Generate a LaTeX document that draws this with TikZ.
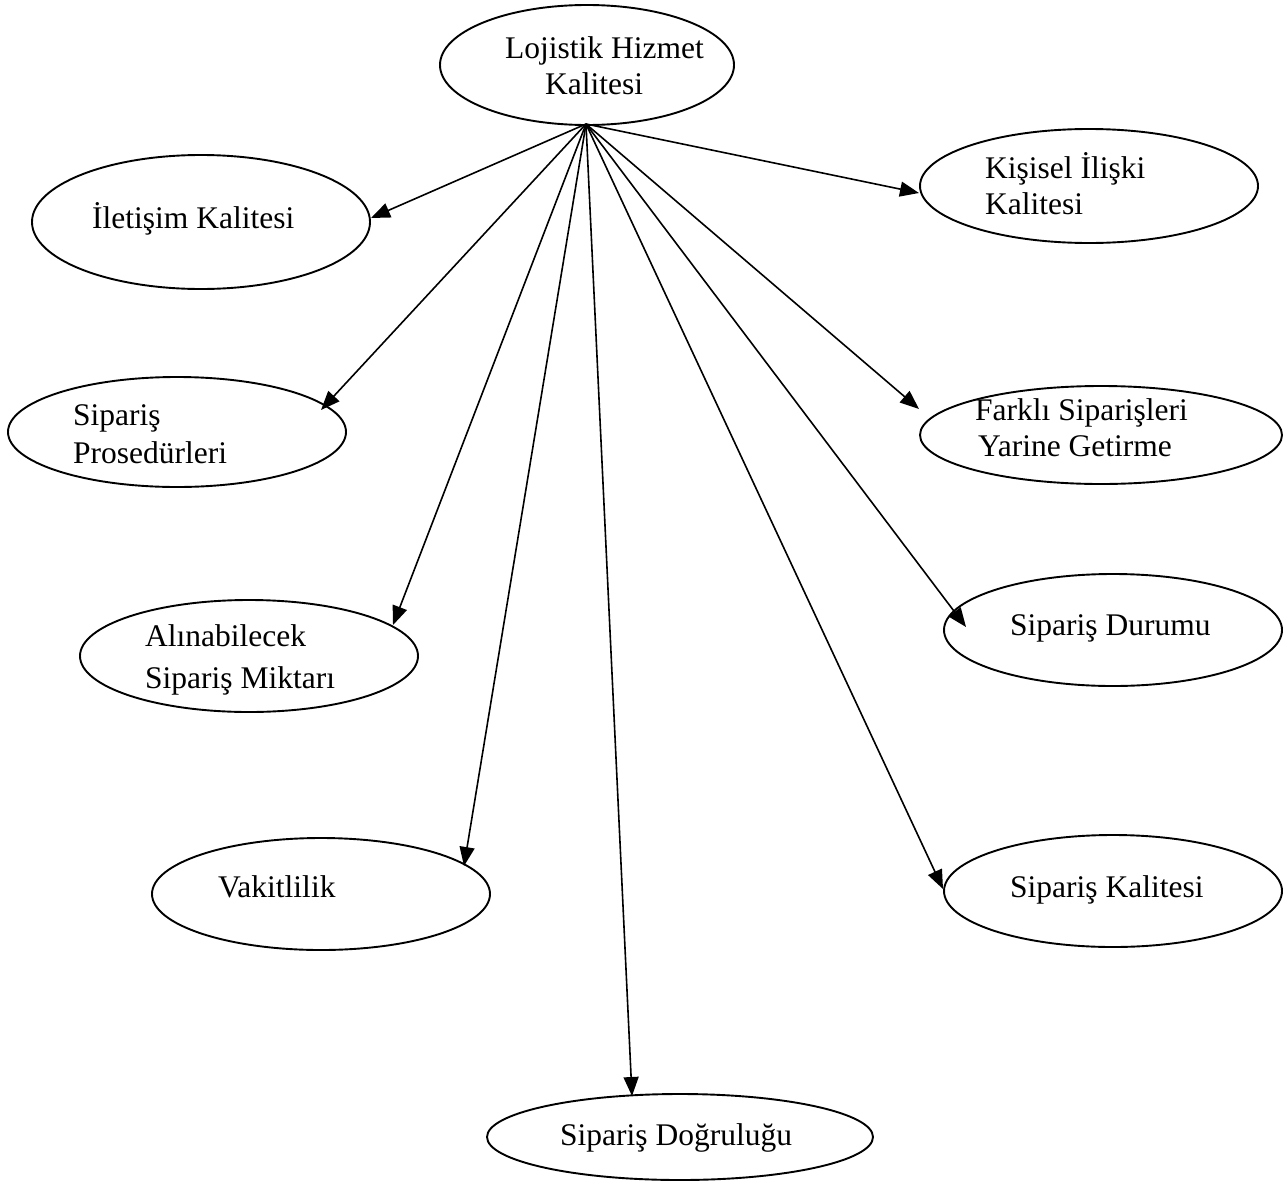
\documentclass[tikz,border=0pt]{standalone}
\usepackage{fontspec}
\setmainfont{Liberation Serif}
\usetikzlibrary{shapes.geometric,arrows.meta}
\tikzset{
  oval/.style={draw, line width=1.9pt, ellipse, inner sep=0pt},
  lbl/.style={anchor=base west, inner sep=0pt, font=\fontsize{31.5}{36}\selectfont},
  arr/.style={-{Triangle[length=19pt,width=15pt]}, line width=1.6pt}
}
\begin{document}
\begin{tikzpicture}[x=1pt,y=-1pt]
\useasboundingbox (0,0) rectangle (1285,1183);
% ellipses
\node[oval, minimum width=294pt, minimum height=120pt] (lhk) at (587,65) {};
\node[oval, minimum width=338pt, minimum height=134pt] (ilet) at (201,222) {};
\node[oval, minimum width=338pt, minimum height=114pt] (kis) at (1089,186) {};
\node[oval, minimum width=338pt, minimum height=110pt] (sip) at (177,432) {};
\node[oval, minimum width=362pt, minimum height=98pt] (far) at (1101,435) {};
\node[oval, minimum width=338pt, minimum height=112pt] (aln) at (249,656) {};
\node[oval, minimum width=338pt, minimum height=112pt] (dur) at (1113,630) {};
\node[oval, minimum width=338pt, minimum height=112pt] (vak) at (321,894) {};
\node[oval, minimum width=338pt, minimum height=112pt] (ska) at (1113,891) {};
\node[oval, minimum width=386pt, minimum height=86pt] (dog) at (680,1137) {};
% texts
\node[lbl] (t1a) at (505,58) {Lojistik Hizmet};
\node[lbl] (t1b) at (545,94) {Kalitesi};
\node[lbl] (t2) at (92,228) {İletişim Kalitesi};
\node[lbl] (t3a) at (985,178) {Kişisel İlişki};
\node[lbl] (t3b) at (985,214) {Kalitesi};
\node[lbl] (t4a) at (73,425) {Sipariş};
\node[lbl] (t4b) at (73,463) {Prosedürleri};
\node[lbl] (t5a) at (975,420) {Farklı Siparişleri};
\node[lbl] (t5b) at (978,456) {Yarine Getirme};
\node[lbl] (t6a) at (145,646) {Alınabilecek};
\node[lbl] (t6b) at (145,688) {Sipariş Miktarı};
\node[lbl] (t7) at (1010,635) {Sipariş Durumu};
\node[lbl] (t8) at (218,897) {Vakitlilik};
\node[lbl] (t9) at (1010,897) {Sipariş Kalitesi};
\node[lbl] (t10) at (560,1145) {Sipariş Doğruluğu};
% arrow origin and tips
\coordinate (o) at (586,124);
\coordinate (e2) at (371,218);
\coordinate (e3) at (919,193);
\coordinate (e4) at (321,410);
\coordinate (e5) at (919,409);
\coordinate (e6) at (393,625);
\coordinate (e7) at (966,627);
\coordinate (e8) at (464,866);
\coordinate (e9) at (943,889);
\coordinate (e10) at (632,1096);
\foreach \e in {e2,e3,e4,e5,e6,e7,e8,e9,e10}
  \draw[arr] (o) -- (\e);
\end{tikzpicture}
\end{document}
